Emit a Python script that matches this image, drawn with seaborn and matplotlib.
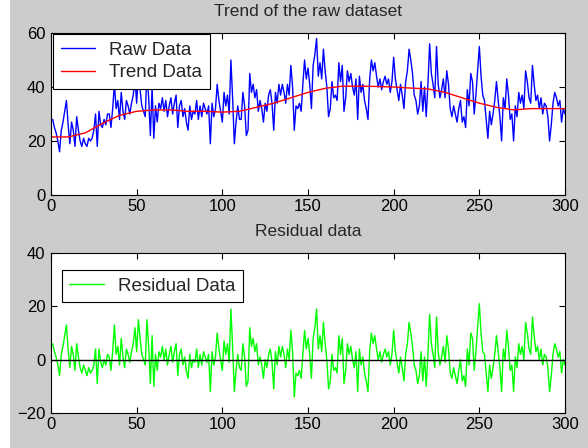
import numpy as np
import pandas as pd
import matplotlib
matplotlib.use("Agg")
import matplotlib.pyplot as plt
from matplotlib.patches import Rectangle
import seaborn as sns

# ---------------- data ----------------
raw_values = [
    28, 25, 23, 20, 16, 24, 27, 31, 35, 26,
    19, 27, 24, 18, 29, 24, 20, 18, 21, 19,
    18, 21, 20, 21, 24, 30, 18, 31, 26, 25,
    28, 26, 30, 30, 25, 32, 41, 32, 35, 28,
    38, 31, 28, 35, 33, 30, 34, 37, 43, 34,
    46, 39, 33, 31, 29, 46, 36, 22, 40, 21,
    33, 27, 34, 32, 36, 31, 35, 29, 33, 36,
    30, 34, 37, 25, 33, 35, 29, 32, 27, 24,
    33, 28, 31, 30, 35, 28, 33, 29, 34, 32,
    30, 33, 19, 34, 29, 32, 41, 35, 31, 27,
    38, 33, 37, 30, 50, 36, 19, 27, 33, 28,
    28, 38, 33, 22, 24, 45, 38, 41, 36, 39,
    31, 35, 32, 27, 34, 31, 37, 39, 34, 24,
    38, 34, 41, 37, 41, 38, 34, 41, 37, 48,
    40, 24, 33, 32, 34, 31, 41, 50, 43, 47,
    41, 32, 48, 52, 58, 44, 49, 43, 54, 46,
    40, 29, 32, 42, 36, 37, 35, 49, 42, 48,
    31, 36, 46, 42, 45, 40, 37, 43, 28, 44,
    38, 41, 35, 32, 28, 43, 50, 46, 49, 44,
    40, 43, 39, 42, 44, 41, 43, 38, 42, 51,
    43, 39, 35, 41, 37, 32, 42, 46, 54, 50,
    45, 37, 35, 30, 33, 42, 31, 40, 29, 41,
    56, 45, 41, 36, 55, 41, 36, 39, 43, 36,
    46, 41, 32, 29, 33, 30, 27, 32, 35, 27,
    29, 25, 39, 33, 45, 42, 30, 37, 46, 55,
    44, 37, 35, 28, 21, 31, 26, 30, 35, 42,
    35, 29, 20, 36, 32, 43, 37, 28, 30, 20,
    33, 29, 38, 34, 37, 32, 46, 42, 36, 34,
    48, 41, 35, 37, 32, 36, 30, 34, 33, 29,
    20, 26, 34, 38, 36, 33, 35, 27, 32, 30,
]

trend_x = [0, 10, 20, 30, 40, 50, 60, 70, 80, 90, 100, 110, 120, 130, 140,
           150, 160, 170, 180, 190, 200, 210, 220, 230, 240, 250, 260, 270,
           280, 290, 300]
trend_values = [21.5, 21.5, 23, 26.5, 29.5, 31, 31.5, 31.5, 31, 31, 30.7, 31,
                32.5, 34, 36, 38, 39.5, 40.3, 40.3, 40.2, 40, 39.6, 39.3, 38,
                36, 34, 32.5, 31.5, 32, 32, 32]

residual_values = [
    6, 3, 1, -2, -6, 2, 5, 9, 13, 4,
    -3, 5, 2, -4, 6, 1, -3, -5, -2, -4,
    -6, -3, -5, -4, -2, 4, -9, 4, -1, -3,
    0, -2, 2, 1, -4, 3, 13, 2, 5, -2,
    8, 1, -3, 4, 2, -1, 3, 6, 12, 3,
    15, 8, 2, 0, -2, 15, 5, -9, 9, -10,
    2, -4, 3, 1, 5, 0, 4, -2, 2, 5,
    -1, 3, 6, -6, 2, 4, -2, 1, -4, -7,
    2, -3, 0, -1, 4, -3, 2, -2, 3, 1,
    -1, 2, -12, 3, -2, 1, 10, 4, 0, -4,
    7, 2, 6, -1, 19, 5, -12, -4, 2, -3,
    -4, 6, 1, -10, -8, 12, 5, 8, 3, 6,
    -2, 1, -2, -7, 0, -3, 2, 4, -1, -11,
    3, -2, 5, 1, 5, 2, -3, 4, 0, 11,
    3, -14, -5, -6, -4, -7, 2, 11, 4, 8,
    2, -7, 8, 12, 19, 4, 9, 3, 14, 6,
    0, -11, -8, 2, -4, -3, -5, 9, 2, 8,
    -9, -4, 6, 2, 5, 0, -3, 3, -12, 4,
    -2, 1, -5, -8, -12, 3, 10, 6, 9, 4,
    0, 3, -1, 2, 4, 1, 3, -2, 2, 11,
    3, -1, -5, 1, -3, -8, 2, 6, 14, 10,
    5, -2, -4, -9, -6, 3, -8, 1, -10, 2,
    17, 6, 2, -3, 16, 3, -2, 1, 5, -1,
    9, 4, -5, -7, -3, -6, -9, -4, 0, -8,
    -6, -10, 4, -2, 10, 8, -4, 3, 12, 21,
    10, 3, 2, -5, -12, -2, -7, -3, 2, 9,
    3, -3, -12, 4, 0, 11, 5, -4, -2, -12,
    1, -3, 6, 2, 5, 0, 14, 10, 4, 2,
    16, 9, 3, 5, 0, 4, -2, 2, 1, -3,
    -12, -6, 2, 6, 4, 1, 3, -5, 0, -2,
]

x_values = list(range(1, 301))
zero_x = [0, 300]
zero_y = [0, 0]

top_title = "Trend of the raw dataset"
bottom_title = "Residual data"
top_yticks = [0, 20, 40, 60]
bottom_yticks = [-20, 0, 20, 40]
xticks = [0, 50, 100, 150, 200, 250, 300]

# ---------------- style ----------------
sns.set_style("white")
plt.rcParams['font.family'] = ['Liberation Sans', 'DejaVu Sans']
plt.rcParams['font.size'] = 12

BG = "#cccccc"
fig = plt.figure(figsize=(5.88, 4.48), dpi=100, facecolor="white")
fig.patches.append(Rectangle((10 / 588, 0), 1, 1, transform=fig.transFigure,
                             facecolor=BG, edgecolor="none", zorder=-10))

ax1 = fig.add_axes([51 / 588, 1 - 195 / 448, 514 / 588, 162 / 448])
ax2 = fig.add_axes([51 / 588, 1 - 413 / 448, 514 / 588, 160 / 448])

df_raw = pd.DataFrame({"x": x_values, "y": raw_values})
df_trend = pd.DataFrame({"x": trend_x, "y": trend_values})
df_res = pd.DataFrame({"x": x_values, "y": residual_values})

sns.lineplot(data=df_raw, x="x", y="y", ax=ax1, color="#0000ff", lw=1.0,
             label="Raw Data", estimator=None)
sns.lineplot(data=df_trend, x="x", y="y", ax=ax1, color="#ff0000", lw=1.0,
             label="Trend Data", estimator=None)

sns.lineplot(data=df_res, x="x", y="y", ax=ax2, color="#00ff00", lw=1.0,
             label="Residual Data", estimator=None)
ax2.plot(zero_x, zero_y, color="black", lw=1.0)

for ax, yt, title in [(ax1, top_yticks, top_title), (ax2, bottom_yticks, bottom_title)]:
    ax.set_facecolor("white")
    ax.set_xlim(0, 300)
    ax.set_ylim(yt[0], yt[-1])
    ax.set_xticks(xticks)
    ax.set_yticks(yt)
    ax.set_xlabel("")
    ax.set_ylabel("")
    ax.set_title(title, fontsize=12.5, pad=12)
    for s in ax.spines.values():
        s.set_visible(True)
        s.set_color("black")
        s.set_linewidth(0.8)
    ax.tick_params(direction="in", length=4, width=0.8, top=True, right=True,
                   bottom=True, left=True, labelsize=12, colors="black",
                   pad=4)
    ax.tick_params(axis="x", pad=3)
    ax.grid(False)

leg_kw = dict(loc="upper left", borderaxespad=0, frameon=True, fancybox=False,
              edgecolor="black", framealpha=1, handlelength=1.85,
              fontsize=13.5, borderpad=0.4, labelspacing=0.3,
              handletextpad=0.75)
leg1 = ax1.legend(bbox_to_anchor=(0.004, 0.994), **leg_kw)
leg1.get_frame().set_linewidth(0.8)
leg2 = ax2.legend(bbox_to_anchor=(0.021, 0.894), **leg_kw)
leg2.get_frame().set_linewidth(0.8)

fig.savefig("out.png", dpi=100, facecolor=fig.get_facecolor())
